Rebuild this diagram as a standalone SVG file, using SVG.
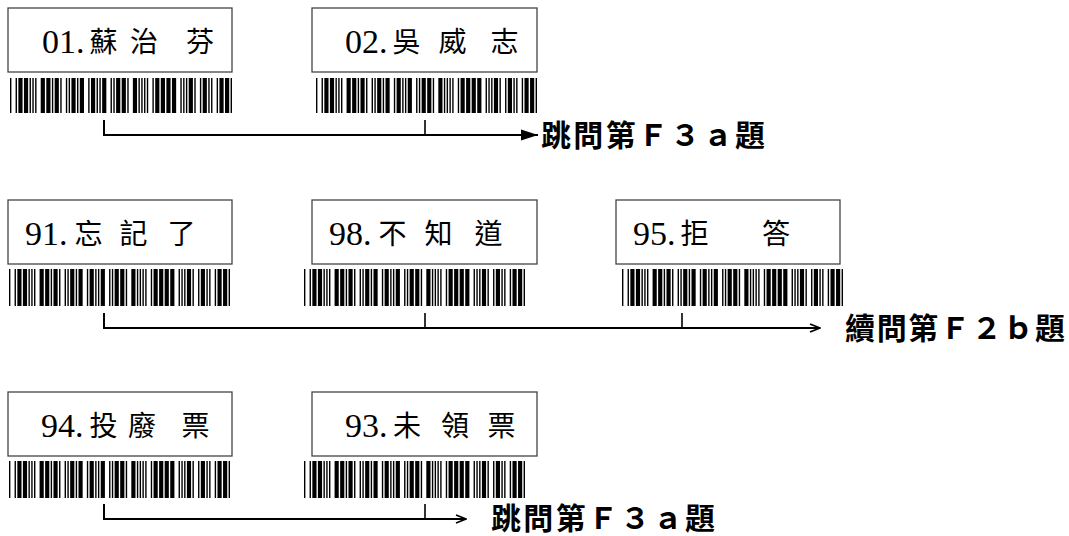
<svg xmlns="http://www.w3.org/2000/svg" xmlns:xlink="http://www.w3.org/1999/xlink" width="1069" height="536" viewBox="0 0 1069 536">
<style>
.box{fill:#fff;stroke:#444;stroke-width:1.3}
.t{font-family:"Liberation Serif","Noto Sans CJK TC",serif;font-size:28px;fill:#000}
.num{font-family:"Liberation Serif",serif;font-size:34px}
.zh{font-family:"Noto Sans CJK TC","Noto Sans CJK SC",sans-serif;font-size:28px}
.lbl{font-family:"Noto Sans CJK TC","Noto Sans CJK SC",sans-serif;font-size:30px;font-weight:bold;fill:#000}
.con{fill:none;stroke:#000;stroke-width:2}
.tick{fill:none;stroke:#000;stroke-width:1.6}
</style>
<defs>
<symbol id="bc" viewBox="0 0 159 10" preserveAspectRatio="none">
<path fill="#000" d="M0 0h1v10h-1zM4 0h1v10h-1zM6 0h3v10h-3zM10 0h3v10h-3zM14 0h1v10h-1zM16 0h1v10h-1zM18 0h1v10h-1zM22 0h3v10h-3zM26 0h3v10h-3zM30 0h1v10h-1zM32 0h3v10h-3zM36 0h1v10h-1zM40 0h1v10h-1zM42 0h1v10h-1zM44 0h3v10h-3zM48 0h1v10h-1zM50 0h3v10h-3zM56 0h1v10h-1zM58 0h3v10h-3zM62 0h1v10h-1zM64 0h1v10h-1zM66 0h3v10h-3zM72 0h1v10h-1zM74 0h1v10h-1zM76 0h3v10h-3zM80 0h3v10h-3zM84 0h1v10h-1zM88 0h3v10h-3zM92 0h1v10h-1zM94 0h1v10h-1zM96 0h1v10h-1zM98 0h1v10h-1zM102 0h1v10h-1zM104 0h3v10h-3zM108 0h3v10h-3zM112 0h3v10h-3zM116 0h3v10h-3zM122 0h1v10h-1zM124 0h1v10h-1zM126 0h1v10h-1zM128 0h3v10h-3zM132 0h1v10h-1zM136 0h1v10h-1zM138 0h3v10h-3zM142 0h1v10h-1zM144 0h1v10h-1zM148 0h1v10h-1zM150 0h3v10h-3zM154 0h3v10h-3zM158 0h1v10h-1z"/>
</symbol>
<marker id="tri" viewBox="0 0 17 12" refX="17" refY="6" markerWidth="17" markerHeight="12" markerUnits="userSpaceOnUse" orient="auto">
<path d="M0 0.5L17 6L0 11.5z" fill="#000"/>
</marker>
<marker id="open" viewBox="0 0 12 10" refX="11" refY="5" markerWidth="12" markerHeight="10" markerUnits="userSpaceOnUse" orient="auto">
<path d="M1 1L11 5L1 9" fill="none" stroke="#000" stroke-width="1.8"/>
</marker>
</defs>

<g id="connectors">
<path class="con" d="M104 120V135H538" marker-end="url(#tri)"/>
<path class="tick" d="M425 120V135"/>
<path class="con" d="M104 313V328H820" marker-end="url(#open)"/>
<path class="tick" d="M425 313V328"/>
<path class="tick" d="M682 313V328"/>
<path class="con" d="M104 504V519H466" marker-end="url(#open)"/>
<path class="tick" d="M425 504V519"/>
</g>

<g id="node-01">
<rect class="box" x="8" y="8" width="224" height="64"/>
<use xlink:href="#bc" x="10" y="78" width="222" height="35"/>
<text class="t"><tspan class="num" x="42" y="53">01.</tspan><tspan class="zh" x="89.5" y="52">蘇</tspan><tspan class="zh" x="130" y="52">治</tspan><tspan class="zh" x="186" y="52">芬</tspan></text>
</g>
<g id="node-02">
<rect class="box" x="312" y="8" width="225" height="64"/>
<use xlink:href="#bc" x="316" y="78" width="221" height="35"/>
<text class="t"><tspan class="num" x="345" y="53">02.</tspan><tspan class="zh" x="392.5" y="52">吳</tspan><tspan class="zh" x="438.5" y="52">威</tspan><tspan class="zh" x="490.5" y="52">志</tspan></text>
</g>
<g id="label-1">
<text class="lbl" x="541" y="146" textLength="224" lengthAdjust="spacing">跳問第Ｆ３ａ題</text>
</g>

<g id="node-91">
<rect class="box" x="8" y="200" width="224" height="64"/>
<use xlink:href="#bc" x="9" y="269" width="221" height="37"/>
<text class="t"><tspan class="num" x="25" y="245">91.</tspan><tspan class="zh" x="74.5" y="244">忘</tspan><tspan class="zh" x="119.5" y="244">記</tspan><tspan class="zh" x="167.5" y="244">了</tspan></text>
</g>
<g id="node-98">
<rect class="box" x="312" y="200" width="225" height="64"/>
<use xlink:href="#bc" x="304" y="269" width="221" height="37"/>
<text class="t"><tspan class="num" x="329" y="245">98.</tspan><tspan class="zh" x="378.5" y="244">不</tspan><tspan class="zh" x="424.5" y="244">知</tspan><tspan class="zh" x="474.5" y="244">道</tspan></text>
</g>
<g id="node-95">
<rect class="box" x="616" y="200" width="224" height="64"/>
<use xlink:href="#bc" x="622" y="269" width="221" height="37"/>
<text class="t"><tspan class="num" x="633" y="245">95.</tspan><tspan class="zh" x="680.5" y="244">拒</tspan><tspan class="zh" x="762" y="244">答</tspan></text>
</g>
<g id="label-2">
<text class="lbl" x="845" y="339" textLength="220" lengthAdjust="spacing">續問第Ｆ２ｂ題</text>
</g>

<g id="node-94">
<rect class="box" x="8" y="392" width="224" height="64"/>
<use xlink:href="#bc" x="9" y="461" width="221" height="37"/>
<text class="t"><tspan class="num" x="41" y="437">94.</tspan><tspan class="zh" x="89.5" y="436">投</tspan><tspan class="zh" x="128" y="436">廢</tspan><tspan class="zh" x="181.5" y="436">票</tspan></text>
</g>
<g id="node-93">
<rect class="box" x="312" y="392" width="225" height="64"/>
<use xlink:href="#bc" x="304" y="461" width="221" height="37"/>
<text class="t"><tspan class="num" x="345" y="437">93.</tspan><tspan class="zh" x="393" y="436">未</tspan><tspan class="zh" x="441" y="436">領</tspan><tspan class="zh" x="487.5" y="436">票</tspan></text>
</g>
<g id="label-3">
<text class="lbl" x="491" y="529" textLength="224" lengthAdjust="spacing">跳問第Ｆ３ａ題</text>
</g>
</svg>
